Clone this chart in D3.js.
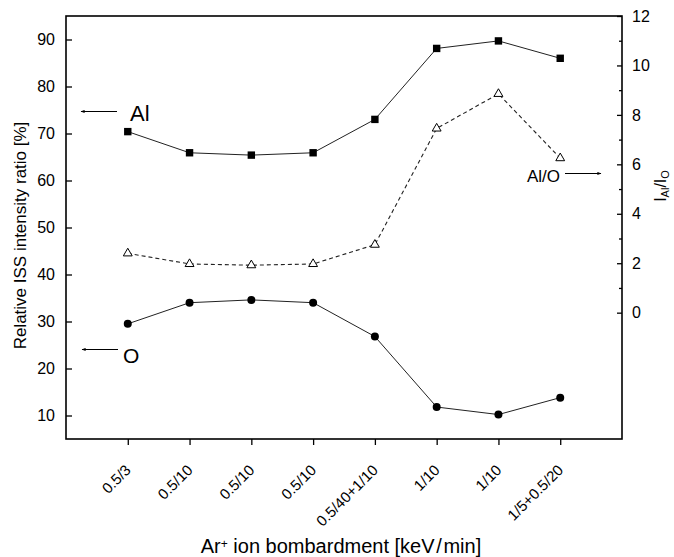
<!DOCTYPE html>
<html>
<head>
<meta charset="utf-8">
<script src="https://cdn.jsdelivr.net/npm/d3@7"></script>
<style>
  body { margin: 0; background: #fff; }
  text { font-family: "Liberation Sans", Arial, sans-serif; fill: #000; }
</style>
</head>
<body>
<div id="chart"></div>
<script>
// Ar+ bombardment conditions and ISS ratios

const categories = ['0.5/3', '0.5/10', '0.5/10', '0.5/10', '0.5/40+1/10', '1/10', '1/10', '1/5+0.5/20'];
const alValues = [70.4, 65.9, 65.4, 65.9, 73.0, 88.1, 89.7, 86.0];
const oValues = [29.5, 34.0, 34.6, 34.0, 26.8, 11.8, 10.2, 13.8];
const ratioValues = [2.4, 1.97, 1.92, 1.97, 2.75, 7.45, 8.85, 6.25];

const leftTicks = [10, 20, 30, 40, 50, 60, 70, 80, 90];
const rightTicks = [0, 2, 4, 6, 8, 10, 12];
const rightMinorTicks = [1, 3, 5, 7, 9, 11];

const width = 674, height = 557;
const margin = { top: 16, right: 52, bottom: 118, left: 66 };
const x0 = margin.left, x1 = width - margin.right;
const y0 = margin.top, y1 = height - margin.bottom;

const svg = d3.select('#chart')
  .append('svg')
  .attr('width', width)
  .attr('height', height);

// index-based point scale (labels repeat)
const x = d3.scalePoint()
  .domain(d3.range(categories.length))
  .range([x0, x1])
  .padding(1);

const yL = d3.scaleLinear().domain([5, 95]).range([y1, y0]);
const yR = d3.scaleLinear().domain([-5.11, 12]).range([y1, y0]);

// Left axis (ticks inward)
const gL = svg.append('g')
  .attr('transform', `translate(${x0},0)`)
  .call(d3.axisLeft(yL).tickValues(leftTicks).tickSize(-6).tickPadding(11));
gL.select('.domain').remove();
gL.selectAll('text').style('font-size', '16px');
gL.selectAll('line').attr('stroke-width', 1.3);

// Right axis
const gR = svg.append('g')
  .attr('transform', `translate(${x1},0)`)
  .call(d3.axisRight(yR).tickValues(rightTicks).tickSize(-5).tickPadding(10));
gR.select('.domain').remove();
gR.selectAll('text').style('font-size', '16px');
gR.selectAll('line').attr('stroke-width', 1.3);

const gRm = svg.append('g')
  .attr('transform', `translate(${x1},0)`)
  .call(d3.axisRight(yR).tickValues(rightMinorTicks).tickSize(-3).tickFormat(''));
gRm.select('.domain').remove();
gRm.selectAll('line').attr('stroke-width', 1.3);

// Bottom axis (ticks outward)
const gB = svg.append('g')
  .attr('transform', `translate(0,${y1})`)
  .call(d3.axisBottom(x).tickSize(6).tickFormat(''));
gB.select('.domain').remove();
gB.selectAll('line').attr('stroke-width', 1.3);

svg.selectAll('.xlabel')
  .data(categories)
  .enter().append('text')
  .attr('class', 'xlabel')
  .attr('transform', (d, i) => `translate(${x(i) + 4},${y1 + 32}) rotate(-45)`)
  .attr('text-anchor', 'end')
  .style('font-size', '15px')
  .text(d => d);

// Frame
svg.append('rect')
  .attr('x', x0).attr('y', y0)
  .attr('width', x1 - x0).attr('height', y1 - y0)
  .attr('fill', 'none')
  .attr('stroke', '#000')
  .attr('stroke-width', 1.6);

// Lines
const lineL = d3.line().x((d, i) => x(i)).y(d => yL(d));
const lineR = d3.line().x((d, i) => x(i)).y(d => yR(d));

svg.append('path').datum(alValues)
  .attr('d', lineL).attr('fill', 'none').attr('stroke', '#222').attr('stroke-width', 1);
svg.append('path').datum(oValues)
  .attr('d', lineL).attr('fill', 'none').attr('stroke', '#222').attr('stroke-width', 1);
svg.append('path').datum(ratioValues)
  .attr('d', lineR).attr('fill', 'none').attr('stroke', '#222').attr('stroke-width', 1.1)
  .attr('stroke-dasharray', '4,3');

// Markers
svg.selectAll('.sq')
  .data(alValues)
  .enter().append('rect')
  .attr('class', 'sq')
  .attr('x', (d, i) => x(i) - 3.7)
  .attr('y', d => yL(d) - 3.7)
  .attr('width', 7.4).attr('height', 7.4)
  .attr('fill', '#000');

svg.selectAll('.dot')
  .data(oValues)
  .enter().append('circle')
  .attr('class', 'dot')
  .attr('cx', (d, i) => x(i))
  .attr('cy', d => yL(d))
  .attr('r', 4)
  .attr('fill', '#000');

const tri = d3.symbol().type(d3.symbolTriangle).size(34);
svg.selectAll('.tri')
  .data(ratioValues)
  .enter().append('path')
  .attr('class', 'tri')
  .attr('transform', (d, i) => `translate(${x(i)},${yR(d)})`)
  .attr('d', tri)
  .attr('fill', '#fff')
  .attr('stroke', '#000')
  .attr('stroke-width', 1);

// Arrow marker
const defs = svg.append('defs');
defs.append('marker')
  .attr('id', 'arr')
  .attr('viewBox', '0 0 10 10')
  .attr('refX', 9).attr('refY', 5)
  .attr('markerWidth', 5).attr('markerHeight', 4)
  .attr('orient', 'auto')
  .append('path')
  .attr('d', 'M0,1 L10,5 L0,9 z')
  .attr('fill', '#000');

function arrow(xa, xb, yy) {
  svg.append('line')
    .attr('x1', xa).attr('y1', yy)
    .attr('x2', xb).attr('y2', yy)
    .attr('stroke', '#000').attr('stroke-width', 1)
    .attr('marker-end', 'url(#arr)');
}

arrow(117, 81, 111.5);
svg.append('text').attr('x', 130).attr('y', 121).style('font-size', '22px').text('Al');

arrow(118, 82, 349.5);
svg.append('text').attr('x', 123).attr('y', 363).style('font-size', '21px').text('O');

arrow(565, 601, 173.5);
svg.append('text').attr('x', 527).attr('y', 182).style('font-size', '17px').text('Al/O');

// Axis titles
svg.append('text')
  .attr('transform', `translate(26,${(y0 + y1) / 2 + 8}) rotate(-90)`)
  .attr('text-anchor', 'middle')
  .style('font-size', '17px')
  .text('Relative ISS intensity ratio [%]');

const rt = svg.append('text')
  .attr('transform', `translate(666,186) rotate(-90)`)
  .attr('text-anchor', 'middle')
  .style('font-size', '16px');
rt.append('tspan').text('I');
rt.append('tspan').attr('baseline-shift', '-25%').style('font-size', '11px').text('Al');
rt.append('tspan').text('/I');
rt.append('tspan').attr('baseline-shift', '-25%').style('font-size', '11px').text('O');

const xt = svg.append('text')
  .attr('x', 341).attr('y', 553)
  .attr('text-anchor', 'middle')
  .style('font-size', '20px');
xt.append('tspan').text('Ar');
xt.append('tspan').attr('baseline-shift', '40%').style('font-size', '12px').text('+');
xt.append('tspan').text(' ion bombardment [keV\u200a/\u200amin]');
</script>
</body>
</html>
